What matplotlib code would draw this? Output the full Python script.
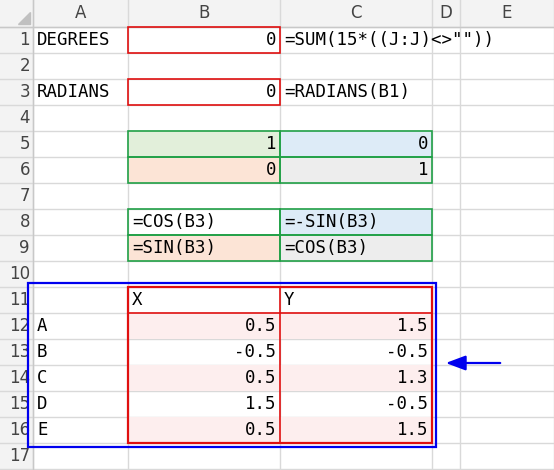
import matplotlib
matplotlib.use("Agg")
import matplotlib.pyplot as plt
from matplotlib.patches import Rectangle

# sheet content
col_names = ["A", "B", "C", "D", "E"]
row_count = 17
col_edges = [33, 128, 280, 432, 460, 554]
row_h = 26
top = 27

labels_a = {1: "DEGREES", 3: "RADIANS", 12: "A", 13: "B", 14: "C", 15: "D", 16: "E"}
formulas_c = {1: '=SUM(15*((J:J)<>""))', 3: "=RADIANS(B1)"}
values_b = {1: "0", 3: "0", 5: "1", 6: "0", 12: "0.5", 13: "-0.5", 14: "0.5", 15: "1.5", 16: "0.5"}
values_c = {5: "0", 6: "1", 12: "1.5", 13: "-0.5", 14: "1.3", 15: "-0.5", 16: "1.5"}
text_left_b = {8: "=COS(B3)", 9: "=SIN(B3)", 11: "X"}
text_left_c = {8: "=-SIN(B3)", 9: "=COS(B3)", 11: "Y"}
fills = {(5, 1): "#e2efda", (5, 2): "#ddebf7", (6, 1): "#fce4d6", (6, 2): "#ededed",
         (9, 1): "#fce4d6", (9, 2): "#ededed", (8, 2): "#ddebf7"}
for r in (12, 14, 16):
    fills[(r, 1)] = "#fdeeee"
    fills[(r, 2)] = "#fdeeee"

fig = plt.figure(figsize=(5.54, 4.7), dpi=100)
ax = fig.add_axes([0, 0, 1, 1])
ax.set_xlim(0, 554)
ax.set_ylim(470, 0)
ax.axis("off")
font = dict(family="DejaVu Sans Mono", fontsize=12.5, zorder=6)

def ry(r):
    return top + (r - 1) * row_h

# headers
ax.add_patch(Rectangle((0, 0), 554, top, color="#f3f3f3", lw=0))
ax.add_patch(Rectangle((0, 0), col_edges[0], 470, color="#f3f3f3", lw=0))
for (r, c), col in fills.items():
    ax.add_patch(Rectangle((col_edges[c], ry(r)), col_edges[c + 1] - col_edges[c], row_h, color=col, lw=0, zorder=3))
for x in col_edges:
    ax.plot([x, x], [0, 470], color="#d9d9d9", lw=1, zorder=2)
for r in range(1, row_count + 2):
    ax.plot([0, 554], [ry(r), ry(r)], color="#d9d9d9", lw=1, zorder=2)
ax.plot([0, 554], [top, top], color="#c8c8c8", lw=1, zorder=2)
ax.plot([col_edges[0]] * 2, [0, 470], color="#c8c8c8", lw=1, zorder=2)
ax.fill([18, 30, 30], [24, 24, 12], color="#c0c0c0")
for i, n in enumerate(col_names):
    ax.text((col_edges[i] + col_edges[i + 1]) / 2, top / 2, n, ha="center", va="center",
            color="#444444", fontsize=12, family="DejaVu Sans")
for r in range(1, row_count + 1):
    ax.text(col_edges[0] - 3, ry(r) + row_h / 2, str(r), ha="right", va="center",
            color="#444444", fontsize=12, family="DejaVu Sans")

def cell_text(r, c, s, align):
    y = ry(r) + row_h / 2
    if align == "left":
        ax.text(col_edges[c] + 4, y, s, ha="left", va="center", **font)
    else:
        ax.text(col_edges[c + 1] - 4, y, s, ha="right", va="center", **font)

for r, s in labels_a.items():
    cell_text(r, 0, s, "left")
for r, s in formulas_c.items():
    cell_text(r, 2, s, "left")
for r, s in values_b.items():
    cell_text(r, 1, s, "right")
for r, s in values_c.items():
    cell_text(r, 2, s, "right")
for r, s in text_left_b.items():
    cell_text(r, 1, s, "left")
for r, s in text_left_c.items():
    cell_text(r, 2, s, "left")

# borders
for r in (1, 3):
    ax.add_patch(Rectangle((col_edges[1], ry(r)), col_edges[2] - col_edges[1], row_h, fill=False,
                           ec="#e01010", lw=1.2, zorder=5))
for r in (5, 6, 8, 9):
    for c in (1, 2):
        ax.add_patch(Rectangle((col_edges[c], ry(r)), col_edges[c + 1] - col_edges[c], row_h, fill=False,
                               ec="#21a047", lw=1.2, zorder=5))
ax.add_patch(Rectangle((col_edges[1], ry(11)), col_edges[3] - col_edges[1], 6 * row_h, fill=False,
                       ec="#e01010", lw=1.6, zorder=5))
ax.plot([col_edges[2]] * 2, [ry(11), ry(17)], color="#e01010", lw=1.2, zorder=5)
ax.plot([col_edges[1], col_edges[3]], [ry(12), ry(12)], color="#e01010", lw=1.2, zorder=5)
ax.add_patch(Rectangle((28, ry(11) - 4), 436 - 28, 6 * row_h + 8, fill=False, ec="#0000ee", lw=1.6, zorder=5))
ax.annotate("", xy=(443, 363), xytext=(503, 363), zorder=6,
            arrowprops=dict(arrowstyle="-|>,head_length=1.2,head_width=0.45", color="#0000ee", lw=1.6))

fig.savefig("out.png", dpi=100)
